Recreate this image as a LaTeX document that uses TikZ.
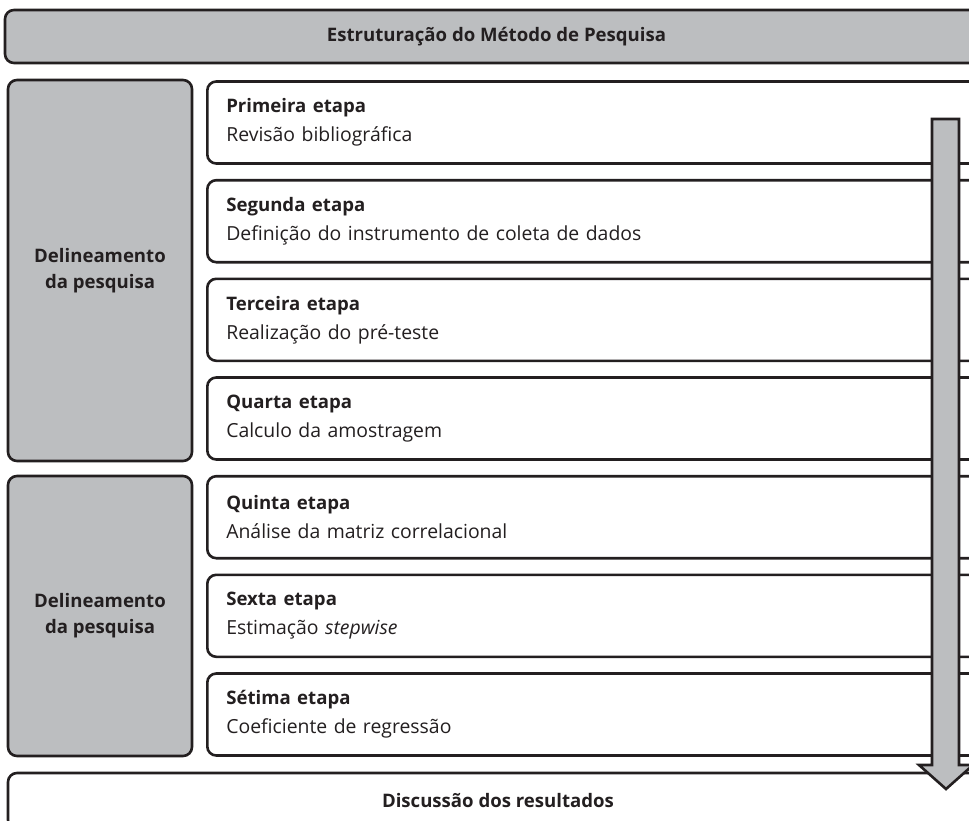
\documentclass[tikz,border=0pt]{standalone}
\usepackage{fontspec}
\setmainfont{Open Sans}
\usepackage{tikz}
\definecolor{cinza}{HTML}{BCBEC0}
\definecolor{texto}{HTML}{231F20}
\newcommand{\nomeetapa}[1]{{\fontsize{18.6}{29}\selectfont\bfseries #1}}

\begin{document}
\begin{tikzpicture}[x=1pt,y=-1pt,
	caixa/.style={draw=texto, line width=2.6pt, rounded corners=9pt, text=texto},
	titulo/.style={caixa, fill=cinza, font=\fontsize{18.6}{26}\selectfont\bfseries, inner sep=0pt},
	bloco/.style={caixa, fill=cinza, font=\fontsize{18.6}{26}\selectfont\bfseries, align=center, inner sep=0pt, minimum width=184pt},
	etapa/.style={caixa, fill=white, font=\fontsize{19.4}{29}\selectfont, anchor=west, minimum height=82pt, text width=744pt, inner xsep=19pt, align=left}]
				\useasboundingbox (0,0) rectangle (969,820);
				\clip (0,0) rectangle (969,820);
				\node [titulo, minimum width=983pt, minimum height=53pt] (estrutura) at (496.5,36.5) {Estruturação do Método de Pesquisa};
				\node [bloco, minimum height=381pt] (delin1) at (100,270.5) {Delineamento\\da pesquisa};
				\node [bloco, minimum height=280pt] (delin2) at (100,616) {Delineamento\\da pesquisa};
				\node [etapa] (e1) at (206,122.5) {\nomeetapa{Primeira etapa}\\Revisão bibliográfica};
				\node [etapa] (e2) at (206,221.2) {\nomeetapa{Segunda etapa}\\Definição do instrumento de coleta de dados};
				\node [etapa] (e3) at (206,319.8) {\nomeetapa{Terceira etapa}\\Realização do pré-teste};
				\node [etapa] (e4) at (206,418.5) {\nomeetapa{Quarta etapa}\\Calculo da amostragem};
				\node [etapa] (e5) at (206,517.2) {\nomeetapa{Quinta etapa}\\Análise da matriz correlacional};
				\node [etapa] (e6) at (206,615.8) {\nomeetapa{Sexta etapa}\\Estimação \textit{stepwise}};
				\node [etapa] (e7) at (206,714.5) {\nomeetapa{Sétima etapa}\\Coeficiente de regressão};
				\node [titulo, fill=white, minimum width=980pt, minimum height=56pt] (discussao) at (498,801) {Discussão dos resultados};
				\draw [draw=texto, fill=cinza, line width=2.6pt, miter limit=10] (932,119) -- (959,119) -- (959,765) -- (973,765) -- (946,789) -- (919,765) -- (932,765) -- cycle;
\end{tikzpicture}
\end{document}
